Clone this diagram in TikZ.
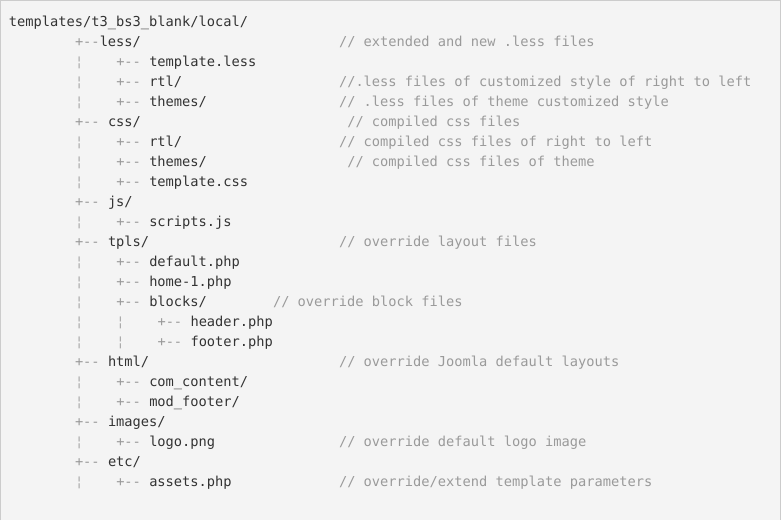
\documentclass[tikz,border=0pt]{standalone}
\usepackage{fontspec}
\newfontfamily\codefont{DejaVu Sans Mono}[Ligatures=TeXOff]
\definecolor{bg}{HTML}{F4F4F4}
\definecolor{framecol}{HTML}{CCCCCC}
\definecolor{ink}{HTML}{333333}
\definecolor{cmtcol}{HTML}{9A9A9A}
\definecolor{treecol}{HTML}{999999}
\definecolor{barcol}{HTML}{A8A8A8}
\begin{document}
\begin{tikzpicture}[x=1pt,y=-1pt,
  txt/.style={anchor=base west,inner sep=0pt,outer sep=0pt,font=\codefont\fontsize{13.7}{16}\selectfont},
  fname/.style={txt,text=ink},
  cmt/.style={txt,text=cmtcol},
  branch/.style={txt,text=treecol},
  vbar/.style={txt,text=barcol}]
\fill[bg] (0,0) rectangle (781,520);
\draw[framecol,line width=1pt] (0.5,520) -- (0.5,0.5) -- (780.5,0.5) -- (780.5,520);
\useasboundingbox (0,0) rectangle (781,520);

% root
\node[fname] (root) at (9,26) {templates/t3\_bs3\_blank/local/};

% less
\node[branch] (b2) at (75,46) {+--};
\node[fname] (less) at (99.75,46) {less/};
\node[cmt] (c2) at (339,46) {// extended and new .less files};
\node[branch] (b3) at (116.25,66) {+--};
\node[fname] (tless) at (149.25,66) {template.less};
\node[branch] (b4) at (116.25,86) {+--};
\node[fname] (rtl1) at (149.25,86) {rtl/};
\node[cmt] (c4) at (339,86) {//.less files of customized style of right to left};
\node[branch] (b5) at (116.25,106) {+--};
\node[fname] (th1) at (149.25,106) {themes/};
\node[cmt] (c5) at (339,106) {// .less files of theme customized style};

% css
\node[branch] (b6) at (75,126) {+--};
\node[fname] (css) at (108,126) {css/};
\node[cmt] (c6) at (347.25,126) {// compiled css files};
\node[branch] (b7) at (116.25,146) {+--};
\node[fname] (rtl2) at (149.25,146) {rtl/};
\node[cmt] (c7) at (339,146) {// compiled css files of right to left};
\node[branch] (b8) at (116.25,166) {+--};
\node[fname] (th2) at (149.25,166) {themes/};
\node[cmt] (c8) at (347.25,166) {// compiled css files of theme};
\node[branch] (b9) at (116.25,186) {+--};
\node[fname] (tcss) at (149.25,186) {template.css};

% js
\node[branch] (b10) at (75,206) {+--};
\node[fname] (js) at (108,206) {js/};
\node[branch] (b11) at (116.25,226) {+--};
\node[fname] (scripts) at (149.25,226) {scripts.js};

% tpls
\node[branch] (b12) at (75,246) {+--};
\node[fname] (tpls) at (108,246) {tpls/};
\node[cmt] (c12) at (339,246) {// override layout files};
\node[branch] (b13) at (116.25,266) {+--};
\node[fname] (default) at (149.25,266) {default.php};
\node[branch] (b14) at (116.25,286) {+--};
\node[fname] (home) at (149.25,286) {home-1.php};
\node[branch] (b15) at (116.25,306) {+--};
\node[fname] (blocks) at (149.25,306) {blocks/};
\node[cmt] (c15) at (273,306) {// override block files};
\node[branch] (b16) at (157.5,326) {+--};
\node[fname] (header) at (190.5,326) {header.php};
\node[branch] (b17) at (157.5,346) {+--};
\node[fname] (footer) at (190.5,346) {footer.php};

% html
\node[branch] (b18) at (75,366) {+--};
\node[fname] (html) at (108,366) {html/};
\node[cmt] (c18) at (339,366) {// override Joomla default layouts};
\node[branch] (b19) at (116.25,386) {+--};
\node[fname] (comc) at (149.25,386) {com\_content/};
\node[branch] (b20) at (116.25,406) {+--};
\node[fname] (modf) at (149.25,406) {mod\_footer/};

% images
\node[branch] (b21) at (75,426) {+--};
\node[fname] (images) at (108,426) {images/};
\node[branch] (b22) at (116.25,446) {+--};
\node[fname] (logo) at (149.25,446) {logo.png};
\node[cmt] (c22) at (339,446) {// override default logo image};

% etc
\node[branch] (b23) at (75,466) {+--};
\node[fname] (etc) at (108,466) {etc/};
\node[branch] (b24) at (116.25,486) {+--};
\node[fname] (assets) at (149.25,486) {assets.php};
\node[cmt] (c24) at (339,486) {// override/extend template parameters};

% broken bars, level 1
\foreach \yy in {66,86,106,146,166,186,226,266,286,306,326,346,386,406,446,486}
  \node[vbar] (v1-\yy) at (75,\yy) {¦};
% broken bars, level 2
\foreach \yy in {326,346}
  \node[vbar] (v2-\yy) at (116.25,\yy) {¦};
\end{tikzpicture}
\end{document}
